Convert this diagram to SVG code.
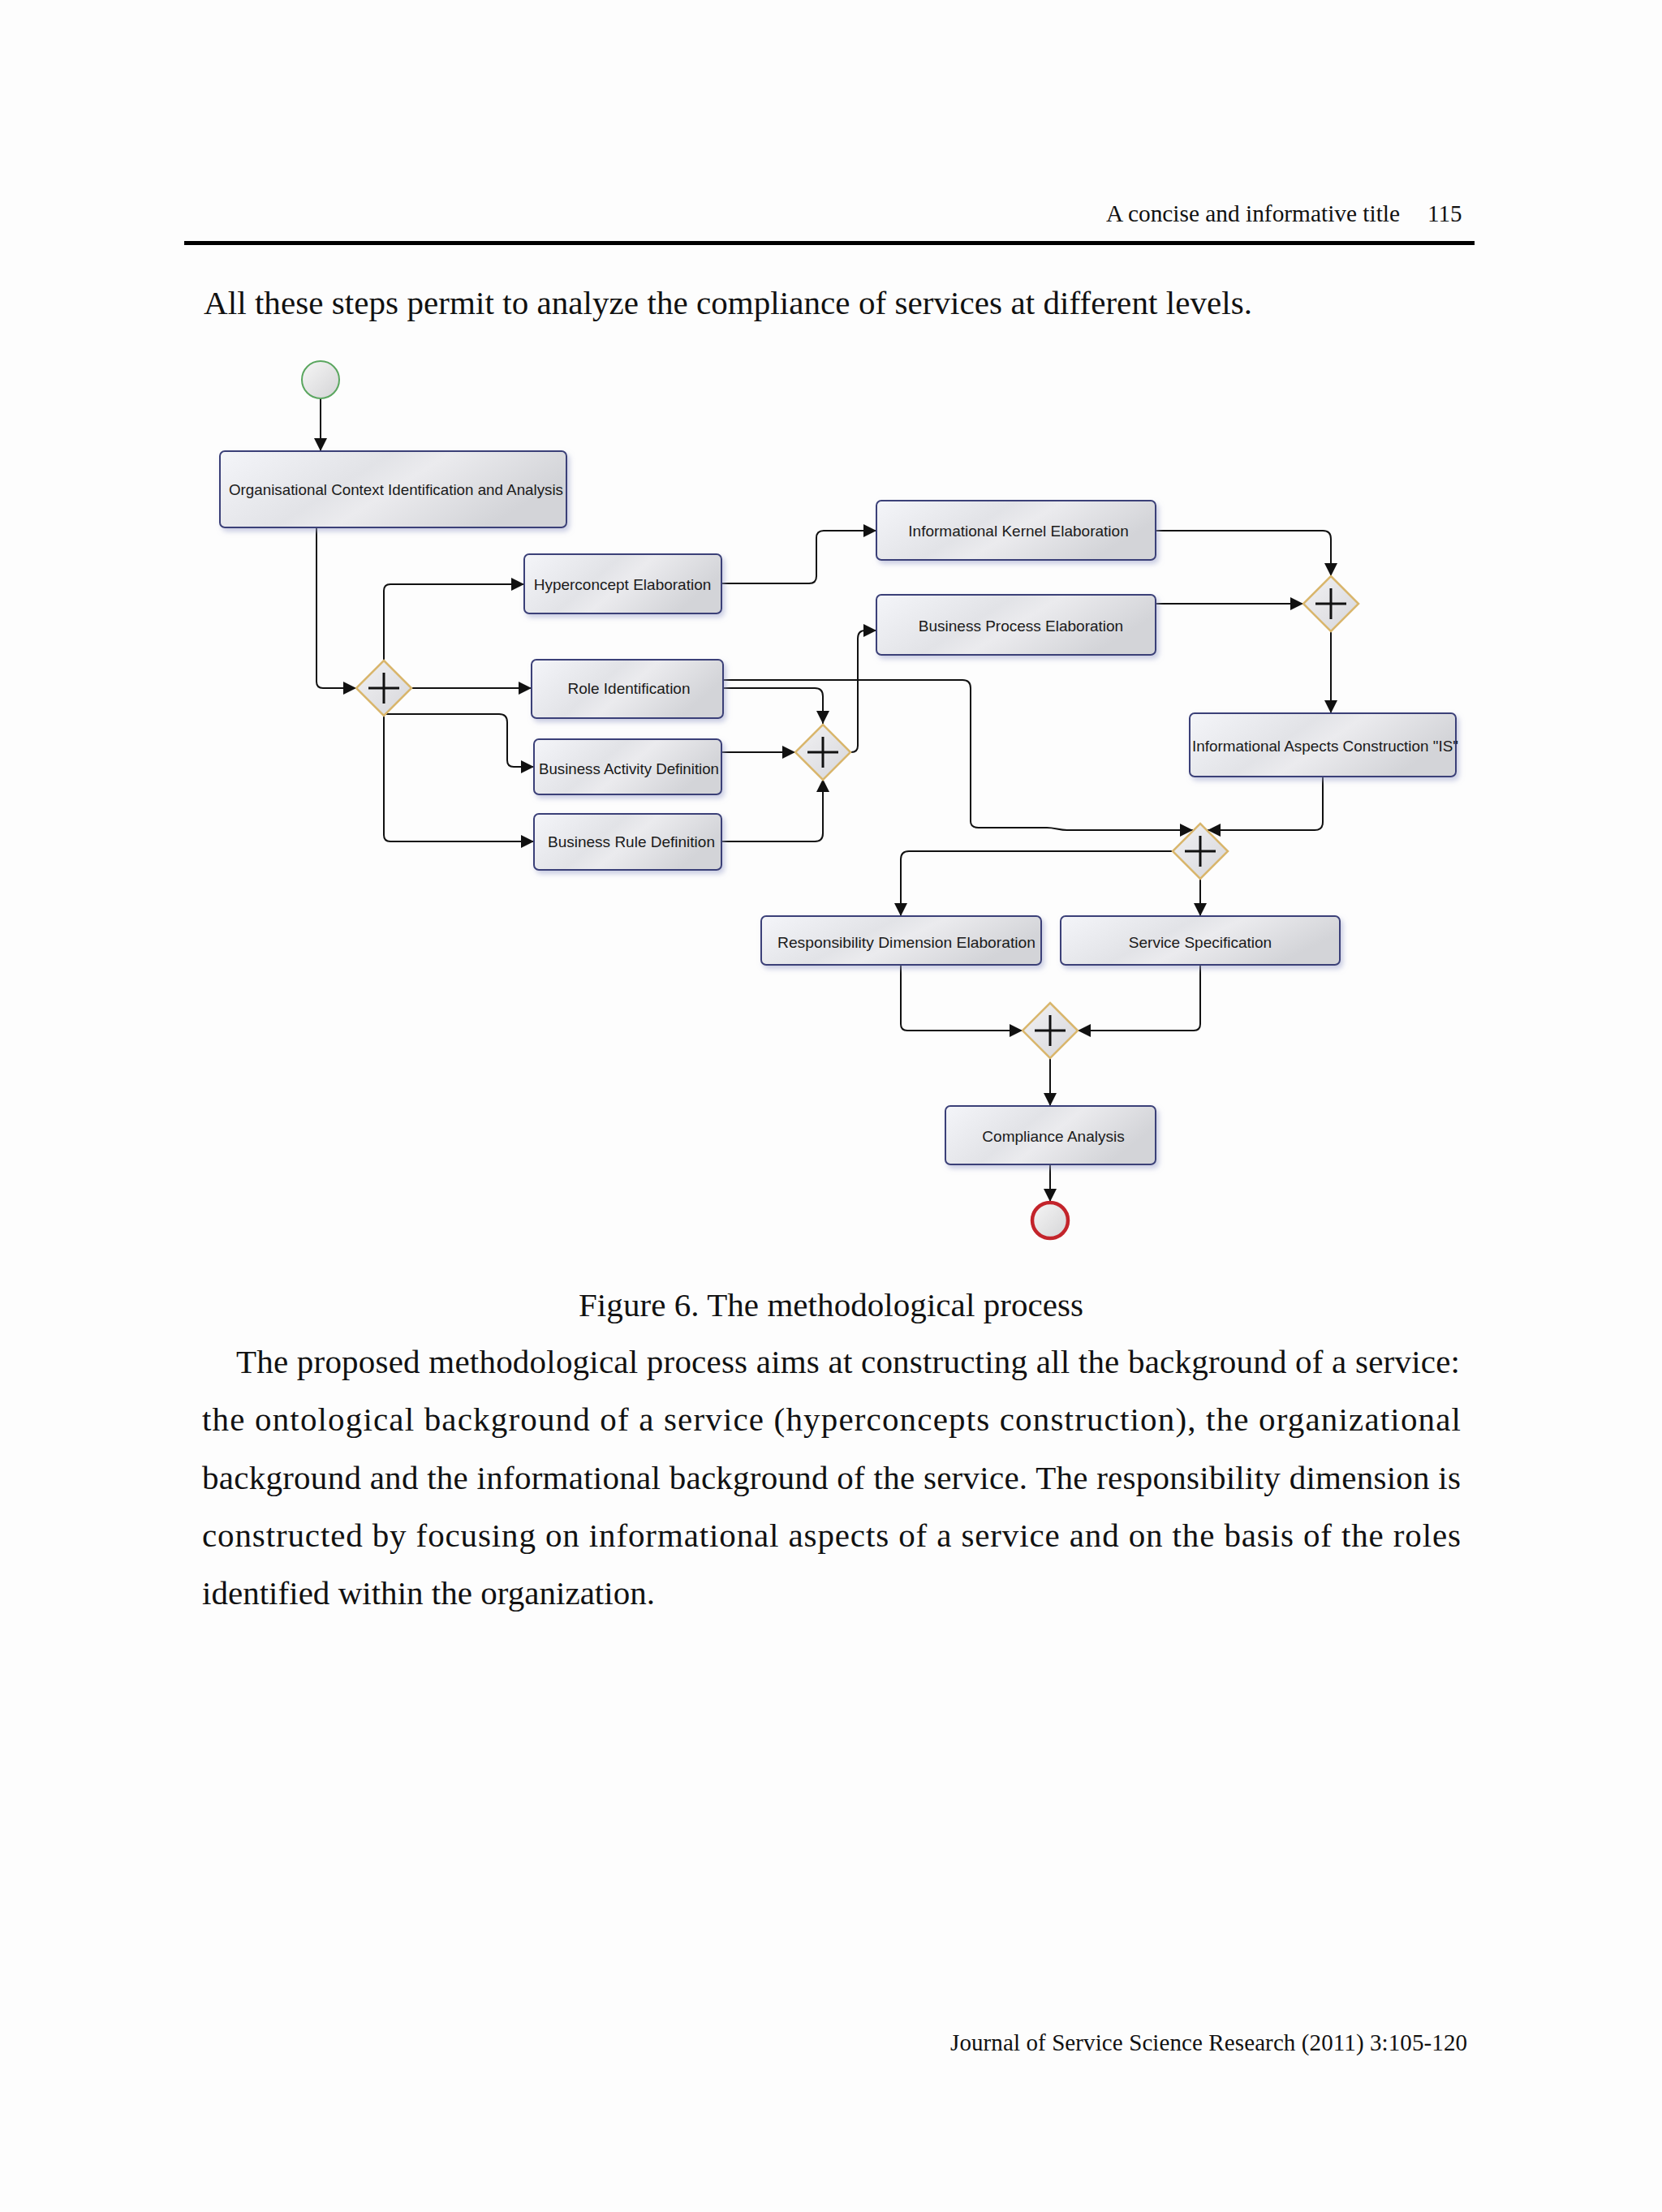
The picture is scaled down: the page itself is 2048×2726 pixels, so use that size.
<svg xmlns="http://www.w3.org/2000/svg" width="2048" height="2726" viewBox="0 0 2048 2726">
<defs>
<linearGradient id="boxFill" x1="0" y1="0" x2="1" y2="0.35">
<stop offset="0" stop-color="#f4f5f9"/>
<stop offset="0.45" stop-color="#e2e3e7"/>
<stop offset="0.6" stop-color="#ebebee"/>
<stop offset="1" stop-color="#d3d4d8"/>
</linearGradient>
<linearGradient id="gwFill" x1="0" y1="0" x2="1" y2="1">
<stop offset="0" stop-color="#f2f2f4"/>
<stop offset="1" stop-color="#d6d6da"/>
</linearGradient>
<linearGradient id="evFill" x1="0" y1="0" x2="1" y2="1">
<stop offset="0" stop-color="#f6f6f6"/>
<stop offset="1" stop-color="#d4d4d6"/>
</linearGradient>
<filter id="shadow" x="-10%" y="-20%" width="130%" height="150%">
<feDropShadow dx="3" dy="4" stdDeviation="3" flood-color="#9ea4cc" flood-opacity="0.55"/>
</filter>
<marker id="arr" markerUnits="userSpaceOnUse" markerWidth="16" markerHeight="16" refX="16" refY="8" orient="auto">
<path d="M0,0 L16,8 L0,16 Z" fill="#111"/>
</marker>
<g id="plus">
<path d="M-19,0 H19 M0,-19 V19" stroke="#111" stroke-width="3" fill="none"/>
</g>
</defs>
<style>
.page{font-family:"Liberation Serif","Times New Roman",serif;fill:#111}
.box{fill:url(#boxFill);stroke:#3a3f78;stroke-width:2;filter:url(#shadow)}
.lbl{font-family:"Liberation Sans",Arial,sans-serif;font-size:19px;fill:#1a1a1a;text-anchor:middle}
.gw{fill:url(#gwFill);stroke:#d9b66c;stroke-width:2.5}
.con{fill:none;stroke:#111;stroke-width:2;marker-end:url(#arr)}
</style>
<rect x="0" y="0" width="2048" height="2726" fill="#fdfdfd"/>

<!-- page texts -->
<g class="page">
<text x="1363" y="273" font-size="29" textLength="362" lengthAdjust="spacingAndGlyphs">A concise and informative title</text>
<text x="1759" y="273" font-size="29">115</text>
<rect x="227" y="297" width="1590" height="5" fill="#000"/>
<text x="251" y="387" font-size="41" textLength="1292" lengthAdjust="spacing">All these steps permit to analyze the compliance of services at different levels.</text>
<text x="713" y="1622" font-size="41" textLength="622" lengthAdjust="spacing">Figure 6. The methodological process</text>
<text x="291" y="1692" font-size="41" textLength="1508" lengthAdjust="spacing">The proposed methodological process aims at constructing all the background of a service:</text>
<text x="249" y="1763" font-size="41" textLength="1551" lengthAdjust="spacing">the ontological background of a service (hyperconcepts construction), the organizational</text>
<text x="249" y="1835" font-size="41" textLength="1551" lengthAdjust="spacing">background and the informational background of the service. The responsibility dimension is</text>
<text x="249" y="1906" font-size="41" textLength="1551" lengthAdjust="spacing">constructed by focusing on informational aspects of a service and on the basis of the roles</text>
<text x="249" y="1977" font-size="41" textLength="558" lengthAdjust="spacing">identified within the organization.</text>
<text x="1171" y="2527" font-size="29" textLength="637" lengthAdjust="spacing">Journal of Service Science Research (2011) 3:105-120</text>
</g>

<!-- connectors -->
<g id="connectors">
<path class="con" d="M395,491 V556"/>
<path class="con" d="M390,650 V840 Q390,848 398,848 H439"/>
<path class="con" d="M473,815 V728 Q473,720 481,720 H646"/>
<path class="con" d="M507,848 H655"/>
<path class="con" d="M473,880 H615 Q625,880 625,890 V937 Q625,945 633,945 H658"/>
<path class="con" d="M473,881 V1029 Q473,1037 481,1037 H658"/>
<path class="con" d="M889,719 H997 Q1006,719 1006,710 V663 Q1006,654 1015,654 H1080"/>
<path class="con" d="M891,838 H1186 Q1196,838 1196,848 V1012 Q1196,1020 1206,1020 H1290 C1300,1020 1305,1023 1315,1023 H1470"/>
<path class="con" d="M891,848 H1004 Q1014,848 1014,858 V892"/>
<path class="con" d="M889,927 H980"/>
<path class="con" d="M889,1037 H1004 Q1014,1037 1014,1027 V960"/>
<path class="con" d="M1048,927 H1049 Q1057,927 1057,919 V787 Q1057,777 1066,777 H1080"/>
<path class="con" d="M1424,654 H1630 Q1640,654 1640,664 V710"/>
<path class="con" d="M1424,744 H1606"/>
<path class="con" d="M1640,778 V879"/>
<path class="con" d="M1630,957 V1013 Q1630,1023 1620,1023 H1488"/>
<path class="con" d="M1445,1049 H1120 Q1110,1049 1110,1059 V1129"/>
<path class="con" d="M1479,1083 V1129"/>
<path class="con" d="M1110,1189 V1262 Q1110,1270 1118,1270 H1260"/>
<path class="con" d="M1479,1189 V1262 Q1479,1270 1471,1270 H1328"/>
<path class="con" d="M1294,1304 V1363"/>
<path class="con" d="M1294,1435 V1481"/>
</g>

<!-- events -->
<g id="start">
<circle cx="395" cy="468" r="23" fill="url(#evFill)" stroke="#5aa65f" stroke-width="2"/>
</g>
<g id="end">
<circle cx="1294" cy="1504" r="22" fill="url(#evFill)" stroke="#c3242b" stroke-width="4.5"/>
</g>

<!-- tasks -->
<g id="org">
<rect class="box" x="271" y="556" width="427" height="94" rx="6"/>
<text class="lbl" x="488" y="610" textLength="412" lengthAdjust="spacingAndGlyphs">Organisational Context Identification and Analysis</text>
</g>
<g id="hyper">
<rect class="box" x="646" y="683" width="243" height="73" rx="6"/>
<text class="lbl" x="767" y="727">Hyperconcept Elaboration</text>
</g>
<g id="role">
<rect class="box" x="655" y="813" width="236" height="72" rx="6"/>
<text class="lbl" x="775" y="855">Role Identification</text>
</g>
<g id="bad">
<rect class="box" x="658" y="911" width="231" height="68" rx="6"/>
<text class="lbl" x="775" y="954" textLength="222" lengthAdjust="spacingAndGlyphs">Business Activity Definition</text>
</g>
<g id="brd">
<rect class="box" x="658" y="1003" width="231" height="69" rx="6"/>
<text class="lbl" x="778" y="1044">Business Rule Definition</text>
</g>
<g id="ike">
<rect class="box" x="1080" y="617" width="344" height="73" rx="6"/>
<text class="lbl" x="1255" y="661">Informational Kernel Elaboration</text>
</g>
<g id="bpe">
<rect class="box" x="1080" y="733" width="344" height="74" rx="6"/>
<text class="lbl" x="1258" y="778">Business Process Elaboration</text>
</g>
<g id="iac">
<rect class="box" x="1466" y="879" width="328" height="78" rx="6"/>
<text class="lbl" x="1633" y="926" textLength="328" lengthAdjust="spacingAndGlyphs">Informational Aspects Construction "IS"</text>
</g>
<g id="rde">
<rect class="box" x="938" y="1129" width="345" height="60" rx="6"/>
<text class="lbl" x="1117" y="1168" textLength="318" lengthAdjust="spacingAndGlyphs">Responsibility Dimension Elaboration</text>
</g>
<g id="ss">
<rect class="box" x="1307" y="1129" width="344" height="60" rx="6"/>
<text class="lbl" x="1479" y="1168">Service Specification</text>
</g>
<g id="ca">
<rect class="box" x="1165" y="1363" width="259" height="72" rx="6"/>
<text class="lbl" x="1298" y="1407">Compliance Analysis</text>
</g>

<!-- gateways -->
<g id="g1">
<path class="gw" d="M473,814 L507,848 L473,882 L439,848 Z"/>
<use href="#plus" x="473" y="848"/>
</g>
<g id="g2">
<path class="gw" d="M1014,893 L1048,927 L1014,961 L980,927 Z"/>
<use href="#plus" x="1014" y="927"/>
</g>
<g id="g3">
<path class="gw" d="M1640,710 L1674,744 L1640,778 L1606,744 Z"/>
<use href="#plus" x="1640" y="744"/>
</g>
<g id="g4">
<path class="gw" d="M1479,1015 L1513,1049 L1479,1083 L1445,1049 Z"/>
<use href="#plus" x="1479" y="1049"/>
</g>
<g id="g5">
<path class="gw" d="M1294,1236 L1328,1270 L1294,1304 L1260,1270 Z"/>
<use href="#plus" x="1294" y="1270"/>
</g>
</svg>
